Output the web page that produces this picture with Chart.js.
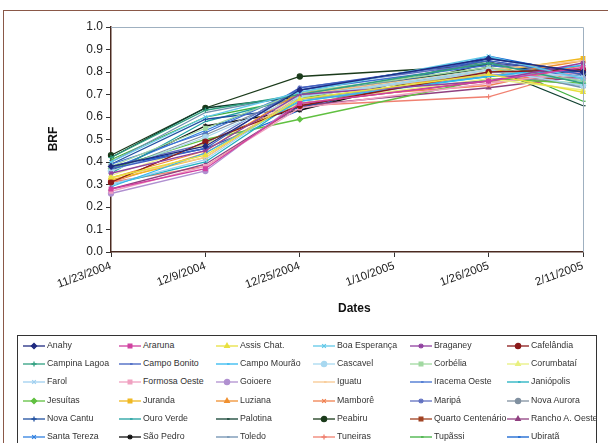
<!DOCTYPE html>
<html><head><meta charset="utf-8">
<script src="https://cdn.jsdelivr.net/npm/chart.js@4.4.0/dist/chart.umd.min.js"></script>
<style>
html,body{margin:0;padding:0;background:#fff;width:608px;height:443px;overflow:hidden;font-family:"Liberation Sans",Arial,sans-serif;}
#frame{position:absolute;left:3px;top:10px;width:640px;height:480px;border:1.5px solid #8a5848;box-sizing:border-box;}
#wrap{position:absolute;left:0;top:0;width:608px;height:330px;}
.t{position:absolute;font-weight:bold;font-size:12px;color:#111;}
#legend{position:absolute;left:17px;top:335px;width:580px;height:130px;border:1px solid #333;box-sizing:border-box;background:#fff;}
.li{position:absolute;font-size:8.8px;color:#333;white-space:nowrap;}
.li canvas{position:absolute;left:0;top:0;}
.li span{position:absolute;left:25px;top:0px;}
</style></head>
<body>
<div id="frame"></div>
<div id="wrap"><canvas id="c"></canvas></div>
<div class="t" style="left:41px;top:132px;transform:rotate(-90deg);transform-origin:center;">BRF</div>
<div class="t" style="left:338px;top:301px;">Dates</div>
<div id="legend"></div>
<script>
const dates = ["11/23/2004","12/9/2004","12/25/2004","1/10/2005","1/26/2005","2/11/2005"];
const yTicks = [0,0.1,0.2,0.3,0.4,0.5,0.6,0.7,0.8,0.9,1.0];
const names = ["Anahy","Araruna","Assis Chat.","Boa Esperança","Braganey","Cafelândia",
"Campina Lagoa","Campo Bonito","Campo Mourão","Cascavel","Corbélia","Corumbataí",
"Farol","Formosa Oeste","Goioere","Iguatu","Iracema Oeste","Janiópolis",
"Jesuítas","Juranda","Luziana","Mamborê","Maripá","Nova Aurora",
"Nova Cantu","Ouro Verde","Palotina","Peabiru","Quarto Centenário","Rancho A. Oeste",
"Santa Tereza","São Pedro","Toledo","Tuneiras","Tupãssi","Ubiratã"];
const colors = ["#1f2a80","#d040a0","#e8e040","#60c8e8","#9040a0","#8b1a1a",
"#30a080","#4060c0","#30b8f0","#a8d8f0","#a0d8a0","#e8f080",
"#a0d0f0","#f0a0c0","#b090d0","#f8c890","#4070d0","#20b0c0",
"#60c040","#f0b820","#f09030","#f08050","#6070c0","#8090a0",
"#2050a0","#20a0a0","#104030","#1a3a1a","#a04020","#904080",
"#3080e0","#101010","#7090b0","#f08070","#40b040","#1060d0"];
const markers = ["rectRot","rect","triangle","crossRot","star","circle",
"cross","dash","dash","circle","rect","triangle",
"crossRot","rect","circle","dash","dash","dash",
"rectRot","rect","triangle","crossRot","star","circle",
"cross","dash","dash","circle","rect","triangle",
"crossRot","star","dash","cross","dash","dash"];
// values per series: 11/23, 12/9, 12/25, 1/10 (no data), 1/26, 2/11
const Anahy=[0.38,0.47,0.72,null,0.86,0.80];
const Araruna=[0.28,0.37,0.66,null,0.76,0.82];
const AssisChat=[0.33,0.43,0.68,null,0.79,0.71];
const BoaEsperanca=[0.40,0.60,0.71,null,0.87,0.77];
const Braganey=[0.35,0.45,0.70,null,0.76,0.84];
const Cafelandia=[0.31,0.49,0.65,null,0.80,0.81];
const CampinaLagoa=[0.42,0.63,0.70,null,0.84,0.75];
const CampoBonito=[0.37,0.46,0.73,null,0.85,0.79];
const CampoMourao=[0.29,0.44,0.67,null,0.78,0.83];
const Cascavel=[0.36,0.51,0.69,null,0.81,0.74];
const Corbelia=[0.38,0.55,0.71,null,0.82,0.76];
const Corumbatai=[0.34,0.48,0.66,null,0.77,0.72];
const Farol=[0.30,0.41,0.69,null,0.80,0.78];
const FormosaOeste=[0.27,0.38,0.64,null,0.75,0.80];
const Goioere=[0.26,0.36,0.67,null,0.79,0.77];
const Iguatu=[0.33,0.42,0.70,null,0.81,0.85];
const IracemaOeste=[0.39,0.53,0.72,null,0.83,0.78];
const Janiopolis=[0.30,0.40,0.68,null,0.78,0.81];
const Jesuitas=[0.37,0.50,0.59,null,0.77,0.75];
const Juranda=[0.32,0.42,0.69,null,0.80,0.86];
const Luziana=[0.33,0.45,0.71,null,0.78,0.85];
const Mambore=[0.31,0.44,0.68,null,0.74,0.83];
const Maripa=[0.38,0.48,0.73,null,0.84,0.79];
const NovaAurora=[0.36,0.52,0.70,null,0.79,0.74];
const NovaCantu=[0.39,0.59,0.64,null,0.86,0.80];
const OuroVerde=[0.35,0.58,0.69,null,0.81,0.76];
const Palotina=[0.42,0.64,0.69,null,0.82,0.65];
const Peabiru=[0.43,0.64,0.78,null,0.83,0.79];
const QuartoCentenario=[0.31,0.49,0.66,null,0.76,0.78];
const RanchoAOeste=[0.28,0.39,0.65,null,0.73,0.78];
const SantaTereza=[0.37,0.54,0.72,null,0.86,0.80];
const SaoPedro=[0.36,0.56,0.63,null,0.84,0.80];
const Toledo=[0.40,0.62,0.70,null,0.82,0.73];
const Tuneiras=[0.31,0.38,0.65,null,0.69,0.81];
const Tupassi=[0.41,0.60,0.68,null,0.85,0.67];
const Ubirata=[0.38,0.46,0.63,null,0.87,0.79];
const values=[Anahy,Araruna,AssisChat,BoaEsperanca,Braganey,Cafelandia,CampinaLagoa,CampoBonito,CampoMourao,Cascavel,Corbelia,Corumbatai,Farol,FormosaOeste,Goioere,Iguatu,IracemaOeste,Janiopolis,Jesuitas,Juranda,Luziana,Mambore,Maripa,NovaAurora,NovaCantu,OuroVerde,Palotina,Peabiru,QuartoCentenario,RanchoAOeste,SantaTereza,SaoPedro,Toledo,Tuneiras,Tupassi,Ubirata];

const datasets = names.map((n,i)=>({
  label:n, data:values[i], borderColor:colors[i], backgroundColor:colors[i],
  borderWidth:1.3, pointStyle:markers[i], pointRadius:2.6, pointBorderWidth:1.1,
  spanGaps:true, tension:0
}));

const frame = {
  id:'frame',
  afterDraw(chart){
    const {ctx, chartArea:a} = chart;
    ctx.save();
    ctx.strokeStyle='#9fb0c0'; ctx.lineWidth=1;
    ctx.beginPath();
    ctx.moveTo(a.left, a.top+0.5); ctx.lineTo(a.right+0.5, a.top+0.5); ctx.lineTo(a.right+0.5, a.bottom);
    ctx.stroke();
    ctx.restore();
  }
};

new Chart(document.getElementById('c'), {
  type:'line',
  data:{labels:dates, datasets},
  options:{
    responsive:true, maintainAspectRatio:false, animation:false,
    layout:{padding:{left:0,top:27,right:25,bottom:0}},
    plugins:{legend:{display:false}, tooltip:{enabled:false}},
    scales:{
      x:{
        offset:false,
        grid:{drawOnChartArea:false, tickLength:5, color:'#333'},
        border:{color:'#4a2a20', width:1.5},
        ticks:{minRotation:20, maxRotation:20, color:'#222', font:{family:'Liberation Sans', size:11.5}, padding:2},
        afterFit(s){ s.height = 78; }
      },
      y:{
        min:0, max:1,
        afterBuildTicks(s){ s.ticks = yTicks.map(v=>({value:v})); },
        grid:{drawOnChartArea:false, tickLength:5, color:'#333'},
        border:{color:'#4a2a20', width:1.5},
        ticks:{color:'#222', font:{family:'Liberation Sans', size:12}, padding:3, callback:v=>Number(v).toFixed(1)},
        afterFit(s){ s.width = 111; }
      }
    }
  },
  plugins:[frame]
});

// HTML legend built from the series arrays
const leg = document.getElementById('legend');
const colX=[4,100,197,294,391,488];
names.forEach((n,i)=>{
  const r=Math.floor(i/6), c=i%6;
  const d=document.createElement('div'); d.className='li';
  d.style.left=colX[c]+'px'; d.style.top=(4+r*18.2)+'px';
  const cv=document.createElement('canvas'); cv.width=24; cv.height=12;
  const ctx=cv.getContext('2d');
  ctx.strokeStyle=colors[i]; ctx.fillStyle=colors[i]; ctx.lineWidth=1.3;
  ctx.beginPath(); ctx.moveTo(1,6); ctx.lineTo(23,6); ctx.stroke();
  Chart.helpers.drawPoint(ctx,{pointStyle:markers[i],radius:2.6,borderWidth:1.1,rotation:0},12,6);
  const sp=document.createElement('span'); sp.textContent=n;
  d.appendChild(cv); d.appendChild(sp); leg.appendChild(d);
});
</script>
</body></html>
